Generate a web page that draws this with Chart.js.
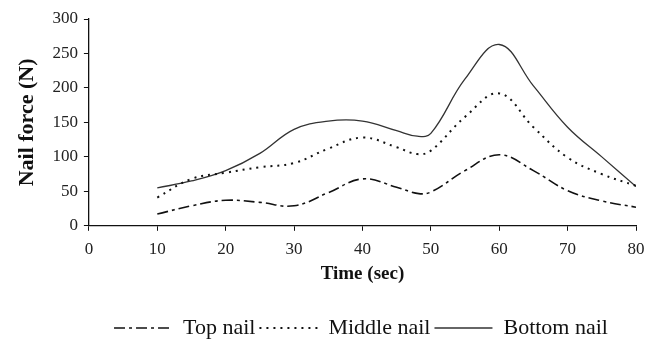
<!DOCTYPE html>
<html>
<head>
<meta charset="utf-8">
<script src="https://cdn.jsdelivr.net/npm/chart.js@4"></script>
<style>
  html, body { margin: 0; padding: 0; background: #fff; }
  #wrap { width: 658px; height: 341px; }
</style>
</head>
<body>
<div id="wrap"><canvas id="nail-chart"></canvas></div>
<script>
// time points (sec) and nail forces (N)
const timeSec   = [10, 15, 20, 25, 30, 35, 40, 45, 48, 50, 55, 60, 65, 70, 75, 80];
const topNail    = [17, 29, 37, 34, 29, 48, 68, 56, 47, 49, 80, 103, 80, 51, 36, 27];
const middleNail = [41, 68, 77, 85, 91, 112, 128, 114, 104, 109, 158, 192, 143, 99, 75, 58];
const bottomNail = [55, 65, 80, 105, 140, 152, 152, 138, 130, 134, 213, 263, 203, 143, 100, 57];
const seriesNames = ['Top nail', 'Middle nail', 'Bottom nail'];
const xTicks = [0, 80, 10];   // min, max, step
const yTicks = [0, 300, 50];

function toPoints(values) {
    return values.map((v, i) => ({ x: timeSec[i], y: v }));
}

const serif = 'Liberation Serif, Times New Roman, serif';

// the default legend takes dash/width from the point style, so copy them from the dataset
function legendLabels(chart) {
    const items = Chart.defaults.plugins.legend.labels.generateLabels(chart);
    items.forEach(item => {
        const ds = chart.data.datasets[item.datasetIndex];
        item.lineDash = ds.borderDash || [];
        item.lineWidth = ds.borderWidth;
        item.strokeStyle = ds.borderColor;
        item.pointStyle = 'line';
    });
    return items;
}

// nudge the legend right and down, it sits off-centre in the original
const shiftLegend = {
    id: 'shiftLegend',
    afterLayout(chart) {
        chart.legend.left += 36;
        chart.legend.right += 36;
        chart.legend.top += 8;
        chart.legend.bottom += 8;
    }
};

new Chart(document.getElementById('nail-chart').getContext('2d'), {
    type: 'line',
    data: {
        datasets: [
            {
                label: seriesNames[0],
                data: toPoints(topNail),
                borderColor: '#111',
                borderWidth: 1.6,
                borderDash: [11, 4, 3, 4],
                pointRadius: 0,
                tension: 0.4
            },
            {
                label: seriesNames[1],
                data: toPoints(middleNail),
                borderColor: '#111',
                borderWidth: 2,
                borderDash: [2, 5],
                pointRadius: 0,
                tension: 0.4
            },
            {
                label: seriesNames[2],
                data: toPoints(bottomNail),
                borderColor: '#333',
                borderWidth: 1.3,
                pointRadius: 0,
                tension: 0.4
            }
        ]
    },
    plugins: [shiftLegend],
    options: {
        responsive: true,
        maintainAspectRatio: false,
        animation: false,
        layout: { padding: { left: 14, right: 22, top: 19, bottom: 0 } },
        plugins: {
            tooltip: { enabled: false },
            legend: {
                position: 'bottom',
                labels: {
                    usePointStyle: true,
                    pointStyleWidth: 58,
                    generateLabels: legendLabels,
                    color: '#111',
                    font: { family: serif, size: 22, lineHeight: 0.9 },
                    padding: 4
                }
            }
        },
        scales: {
            x: {
                type: 'linear',
                min: xTicks[0],
                max: xTicks[1],
                ticks: { stepSize: xTicks[2], color: '#222', font: { family: serif, size: 17 }, padding: 9 },
                grid: { drawOnChartArea: false, drawTicks: true, tickLength: 5, color: '#111' },
                border: { display: true, color: '#111', width: 1.3 },
                title: {
                    display: true,
                    text: 'Time (sec)',
                    color: '#111',
                    font: { family: serif, size: 19, weight: 'bold' },
                    padding: { top: -7, bottom: 20 }
                }
            },
            y: {
                min: yTicks[0],
                max: yTicks[1],
                ticks: { stepSize: yTicks[2], color: '#222', font: { family: serif, size: 17 }, padding: 6 },
                grid: { drawOnChartArea: false, drawTicks: true, tickLength: 5, color: '#111' },
                border: { display: true, color: '#111', width: 1.3 },
                title: {
                    display: true,
                    text: 'Nail force (N)',
                    color: '#111',
                    font: { family: serif, size: 22, weight: 'bold' },
                    padding: { top: 0, bottom: 6 }
                }
            }
        }
    }
});
</script>
</body>
</html>
